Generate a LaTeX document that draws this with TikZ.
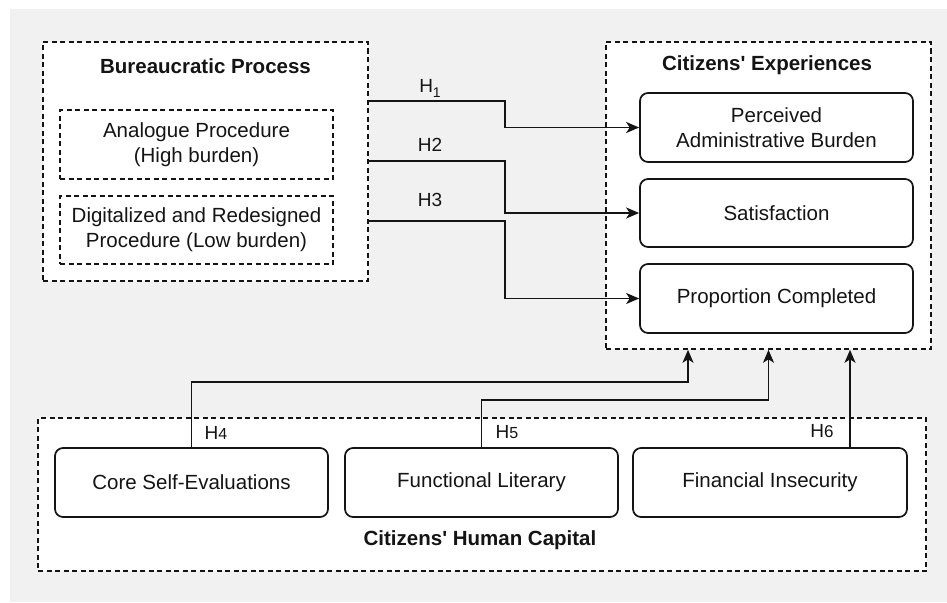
\documentclass[tikz,border=0pt]{standalone}
\usepackage{fontspec}
\newfontfamily\diafont{Liberation Sans}
\usetikzlibrary{arrows.meta}

\definecolor{ink}{HTML}{141414}
\definecolor{canvas}{HTML}{F1F1F1}

\tikzset{
  txt/.style={font=\diafont\fontsize{20.5}{25}\selectfont, text=ink, align=center},
  ttl/.style={font=\diafont\bfseries\fontsize{20.5}{25}\selectfont, text=ink},
  hlab/.style={font=\diafont\fontsize{19}{20}\selectfont, text=ink, inner sep=0pt},
  group/.style={draw=ink, line width=1.6pt, dash pattern=on 5pt off 3.5pt,
    fill=white, rectangle, inner sep=0pt},
  variant/.style={group, txt},
  outcome/.style={draw=ink, line width=1.7pt, fill=white, rectangle,
    rounded corners=8pt, txt, inner sep=0pt,
    minimum width=273pt, minimum height=69pt},
  link/.style={draw=ink, line width=1.7pt,
    -{Stealth[length=13pt, width=11pt, inset=3.5pt]}},
}

\begin{document}
\begin{tikzpicture}[x=1pt, y=-1pt]
  % page and canvas
  \useasboundingbox (0,0) rectangle (947,602);
  \fill[white] (0,0) rectangle (947,602);
  \fill[canvas] (10,9) rectangle (947,602);

  % bureaucratic process group
  \node[group, minimum width=325pt, minimum height=239pt] (bp) at (205.5,161.5) {};
  \node[ttl] (bpt) at (205.5,66) {Bureaucratic Process};
  \node[variant, minimum width=273pt, minimum height=69pt] (ana) at (196.5,144.5)
    {Analogue Procedure\\(High burden)};
  \node[variant, minimum width=273pt, minimum height=68pt] (dig) at (196.5,230)
    {Digitalized and Redesigned\\Procedure (Low burden)};

  % citizens' experiences group
  \node[group, minimum width=325pt, minimum height=307pt] (ce) at (768.5,195.5) {};
  \node[ttl] (cet) at (767,65) {Citizens{\char"0027} Experiences};
  \node[outcome] (pab) at (776.5,127.5) {Perceived\\Administrative Burden};
  \node[outcome, minimum height=68pt] (sat) at (776.5,213) {Satisfaction};
  \node[outcome] (pc) at (776.5,298.5) {Proportion Completed};

  % human capital group
  \node[group, minimum width=888pt, minimum height=153pt] (hc) at (482,494.5) {};
  \node[ttl] (hct) at (480,540) {Citizens{\char"0027} Human Capital};
  \node[outcome] (cse) at (191.5,482.5) {Core Self-Evaluations};
  \node[outcome] (fl) at (481.5,482.5) {Functional Literary};
  \node[outcome, minimum width=274pt] (fi) at (770,482.5) {Financial Insecurity};

  % procedure effects
  \draw[link] ([yshift=-60pt]bp.north east) -- ++(136,0) |- (pab.west);
  \draw[link] ([yshift=-120pt]bp.north east) -- ++(136,0) |- (sat.west);
  \draw[link] ([yshift=-180pt]bp.north east) -- ++(136,0) |- (pc.west);

  % human capital effects
  \draw[link] (cse.north) -- ++(0,-65) -| ([xshift=-80.5pt]ce.south);
  \draw[link] (fl.north) -- ++(0,-47) -| (ce.south);
  \draw[link] ([xshift=80pt]fi.north) -- ([xshift=80pt]fi.north |- ce.south);

  % hypothesis labels
  \node[hlab] (h1) at (430,88) {H\raisebox{-5pt}{\fontsize{14}{14}\selectfont 1}};
  \node[hlab] (h2) at (430,145) {H2};
  \node[hlab] (h3) at (430,200) {H3};
  \node[hlab] (h4) at (216,433) {H{\fontsize{16}{16}\selectfont 4}};
  \node[hlab] (h5) at (507,432) {H{\fontsize{16}{16}\selectfont 5}};
  \node[hlab] (h6) at (822,431) {H{\fontsize{17}{17}\selectfont 6}};
\end{tikzpicture}
\end{document}
